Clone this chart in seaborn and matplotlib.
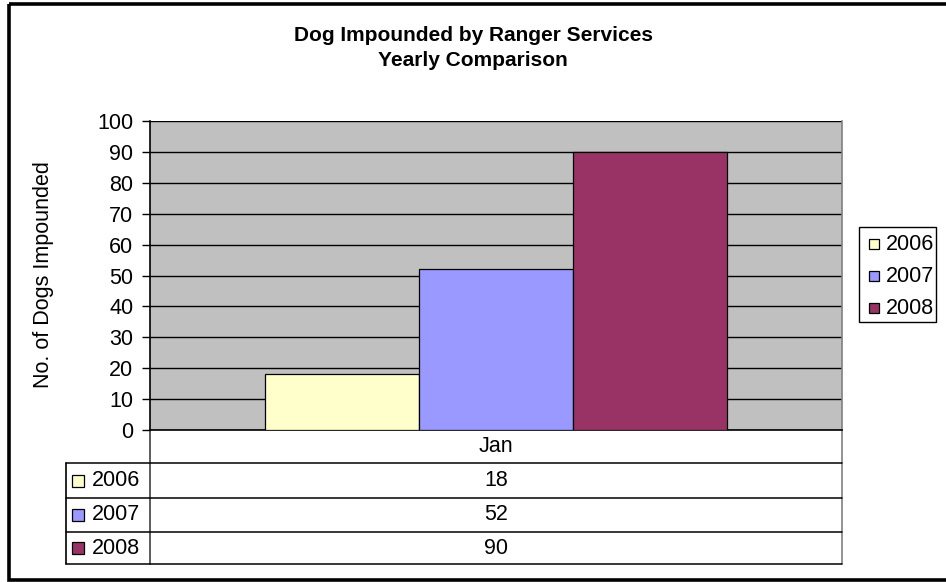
import matplotlib
matplotlib.use("Agg")
import matplotlib.pyplot as plt
from matplotlib.patches import Rectangle
import seaborn as sns
import pandas as pd

# Data
months = ["Jan"]
years = ["2006", "2007", "2008"]
impounded = [18, 52, 90]
colors = ["#FFFFCC", "#9999FF", "#993366"]
y_ticks = [0, 10, 20, 30, 40, 50, 60, 70, 80, 90, 100]

title = "Dog Impounded by Ranger Services\nYearly Comparison"
y_label = "No. of Dogs Impounded"

df = pd.DataFrame({"month": months * len(years), "year": years, "count": impounded})

sns.set_theme(style="white")
plt.rcParams["font.family"] = ["Liberation Sans", "DejaVu Sans"]
plt.rcParams["text.color"] = "black"
plt.rcParams["ytick.color"] = "black"
plt.rcParams["ytick.labelcolor"] = "black"

FS = 15.5

W, H = 946, 582
fig = plt.figure(figsize=(W / 100, H / 100), dpi=100)

# pixel helpers
def box(l, t, r, b):
    return [l / W, 1 - b / H, (r - l) / W, (b - t) / H]

# overlay in pixel coordinates for the frame, table, and labels
over = fig.add_axes([0, 0, 1, 1])
over.set_xlim(0, W)
over.set_ylim(H, 0)
over.axis("off")
over.set_zorder(0)

PL, PR, PT, PB = 150, 842, 121, 430
ax = fig.add_axes(box(PL, PT, PR, PB))
ax.set_zorder(1)
ax.set_facecolor("#C0C0C0")

sns.barplot(data=df, x="month", y="count", hue="year", palette=dict(zip(years, colors)),
            saturation=1, width=0.669, edgecolor="black", linewidth=0.9, ax=ax,
            legend=False, zorder=3)

ax.set_ylim(0, 100)
ax.set_xlim(-0.5, 0.5)
ax.set_yticks(y_ticks)
ax.set_yticklabels([str(v) for v in y_ticks], fontsize=FS, color="black")
ax.set_xticks([])
ax.set_xlabel("")
ax.set_ylabel("")
ax.yaxis.grid(True, color="black", linewidth=1.0, zorder=1)
ax.set_axisbelow(True)
ax.tick_params(axis="y", direction="out", length=6, width=1, color="black", pad=6, left=True)
for s in ["left", "bottom"]:
    ax.spines[s].set_color("black")
    ax.spines[s].set_linewidth(1.2)
ax.spines["top"].set_visible(False)
ax.spines["right"].set_color("#808080")
ax.spines["right"].set_linewidth(1.2)

# title and axis label
over.text(W / 2 + 0, 48, title, ha="center", va="center", fontsize=15, fontweight="bold",
          linespacing=1.35)
over.text(44, 275, y_label, ha="center", va="center", rotation=90, fontsize=FS)

# legend
lx0, ly0, lx1, ly1 = 859, 227, 936, 322
over.add_patch(Rectangle((lx0, ly0), lx1 - lx0, ly1 - ly0, fill=False, edgecolor="black", lw=1))
for i, (yr, c) in enumerate(zip(years, colors)):
    yc = 244 + i * 32
    over.add_patch(Rectangle((869, yc - 5), 10, 10, facecolor=c, edgecolor="black", lw=0.9))
    over.text(886, yc, yr, ha="left", va="center", fontsize=FS)

# data table below the plot
TL = 66
row_edges = [430, 463, 498, 532, 564]
lc = "black"
over.plot([PL, PL], [PB, row_edges[-1]], color="#404040", lw=1.2)
over.plot([PR, PR], [PB, row_edges[-1]], color="#808080", lw=1.2)
over.plot([TL, TL], [row_edges[1], row_edges[-1]], color=lc, lw=1.2)
for y in row_edges[1:]:
    over.plot([TL, PR], [y, y], color=lc, lw=1.1)
over.text((PL + PR) / 2, (row_edges[0] + row_edges[1]) / 2, months[0], ha="center", va="center",
          fontsize=FS)
for i, (yr, c, v) in enumerate(zip(years, colors, impounded)):
    yc = (row_edges[i + 1] + row_edges[i + 2]) / 2
    over.add_patch(Rectangle((72, yc - 6), 12, 12, facecolor=c, edgecolor="black", lw=0.9))
    over.text(92, yc, yr, ha="left", va="center", fontsize=FS)
    over.text((PL + PR) / 2, yc, str(v), ha="center", va="center", fontsize=FS)

# outer chart frame (runs past the right edge)
over.add_patch(Rectangle((9, 4), 1000, 576, fill=False, edgecolor="black", lw=2.6))

fig.savefig("out.png", dpi=100)
